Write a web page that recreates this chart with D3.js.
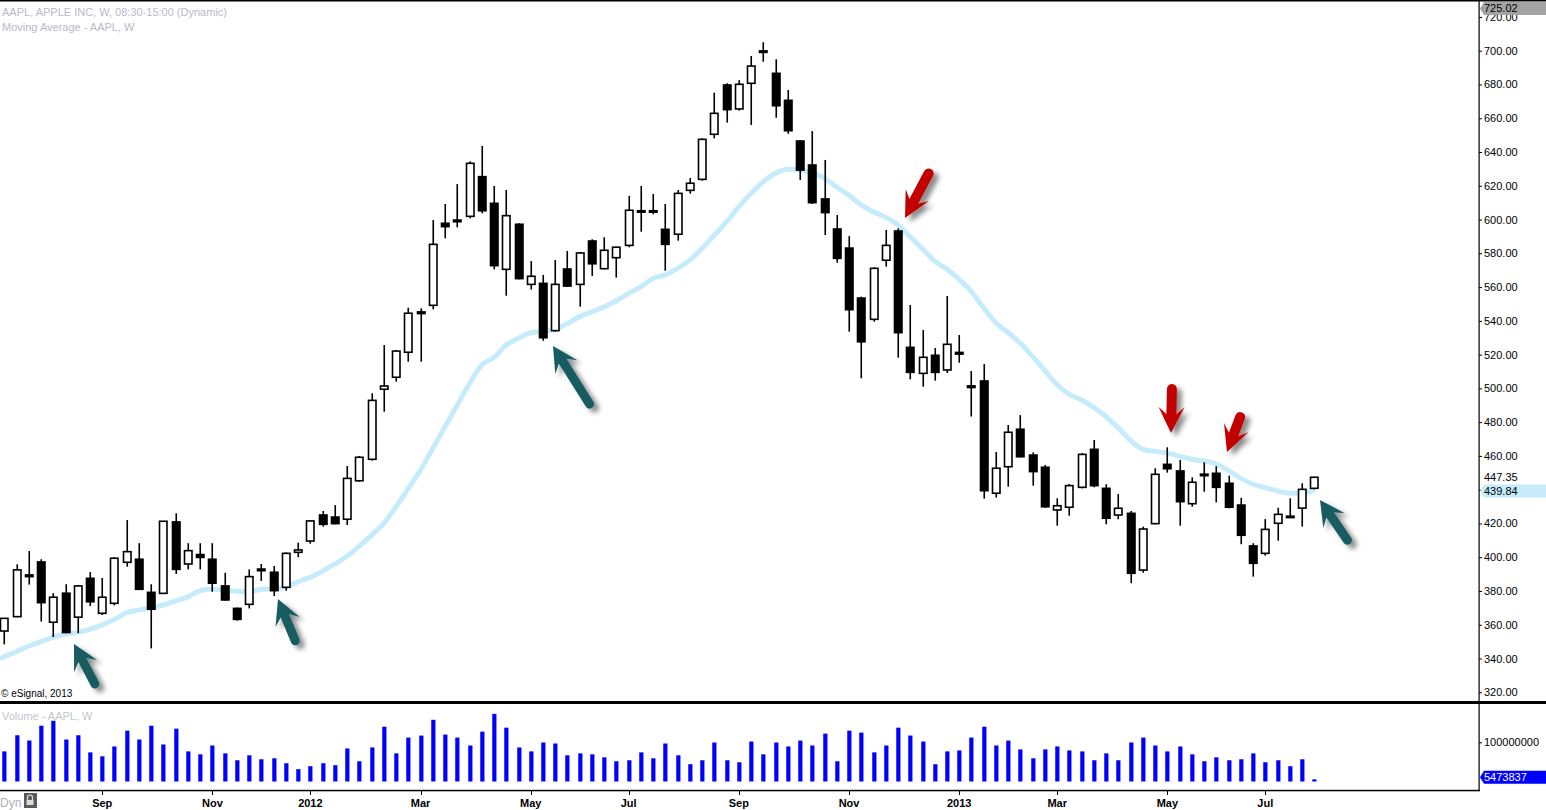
<!DOCTYPE html>
<html><head><meta charset="utf-8">
<script src="https://cdn.jsdelivr.net/npm/d3@7"></script>
<style>
html,body{margin:0;padding:0;background:#fff;overflow:hidden}
svg{display:block;font-family:"Liberation Sans",Arial,sans-serif}
</style></head><body>
<svg id="chart" width="1546" height="810"></svg>
<script>
// ---- data (weekly AAPL, week of 2011-07-11 .. 2013-07-29) ----
const opens  = [356.3,364.8,389.5,397.2,361.5,378.7,364.5,387.5,366.8,372.7,397.0,398.8,379.2,378.6,420.9,396.0,401.6,398.8,383.0,369.7,372.1,393.0,391.1,382.2,402.9,409.6,425.0,423.8,422.5,445.3,458.0,499.5,506.6,521.4,545.3,549.2,597.8,599.7,601.9,625.4,609.6,570.5,597.2,561.6,562.2,534.2,570.7,561.6,587.3,570.9,577.4,584.7,605.2,605.2,594.2,591.3,617.3,623.8,650.5,679.7,665.5,680.7,699.9,686.6,670.6,646.5,632.3,612.2,594.4,583.1,553.5,540.9,575.9,593.2,524.3,508.9,519.6,510.9,521.3,501.5,504.4,437.9,453.6,475.8,460.5,453.3,428.0,429.6,441.4,463.9,440.8,425.0,426.0,392.4,419.9,455.0,451.1,431.7,449.2,449.7,443.8,430.9,406.7,402.3,420.1,424.3,429.1,440.8];
const highs  = [364.0,395.8,403.7,398.8,378.7,384.0,383.6,391.2,387.7,400.0,422.0,408.3,384.0,421.5,426.0,408.3,408.3,408.3,390.8,370.2,392.8,396.0,394.8,402.9,408.6,422.0,427.4,430.9,454.0,460.0,497.1,525.7,522.7,547.8,547.4,599.7,609.2,621.0,634.5,643.6,619.9,617.5,597.8,575.4,567.2,576.0,581.4,580.8,588.3,589.5,584.0,614.0,619.9,615.1,609.2,617.5,624.6,648.1,675.1,680.7,682.6,696.9,705.0,694.9,676.7,647.1,652.4,635.3,602.7,590.2,554.3,571.7,593.8,594.8,549.4,534.6,523.9,554.7,531.6,510.3,514.4,462.3,478.3,484.2,462.1,454.6,434.9,443.4,461.7,469.4,443.2,437.4,427.4,418.1,452.7,465.1,457.6,447.3,456.2,453.9,448.3,435.2,408.3,422.6,429.3,434.9,443.8,447.7];
const lows   = [348.4,364.5,383.8,361.9,352.7,355.0,355.0,371.1,365.8,371.5,394.4,380.6,346.0,378.2,390.1,392.8,392.8,379.6,374.3,362.4,369.7,386.0,377.0,380.2,400.0,408.0,418.1,419.5,419.1,444.7,457.2,486.2,504.0,515.8,515.8,546.8,588.9,595.4,600.7,603.7,570.5,554.9,564.6,558.5,528.2,533.6,560.2,548.4,566.6,570.5,565.6,583.6,592.8,603.1,569.7,587.5,615.3,623.0,648.1,657.4,664.5,656.0,693.5,660.3,650.8,623.4,609.2,590.8,574.4,533.6,506.0,539.5,572.1,518.2,505.4,501.0,504.6,509.1,515.2,483.3,434.7,435.3,441.8,459.2,442.4,429.3,418.7,424.6,440.8,441.4,419.5,422.5,384.6,390.8,419.5,450.1,418.7,429.9,438.8,432.5,429.0,407.7,388.5,400.9,409.8,423.4,418.1,440.2];
const closes = [363.8,392.5,388.5,373.1,376.3,355.4,383.0,373.6,376.3,399.4,403.3,381.0,369.2,421.3,392.8,403.9,399.9,384.6,374.7,363.2,388.5,392.0,380.2,402.3,404.3,421.5,419.5,419.9,446.7,459.2,492.9,501.4,522.1,544.5,544.3,585.3,595.8,598.7,633.3,605.2,572.7,602.3,565.0,566.4,530.0,561.6,560.6,580.2,573.8,581.8,583.6,605.5,604.5,604.5,585.3,615.5,621.5,647.5,662.9,665.1,680.1,690.9,699.0,667.4,652.6,629.3,610.0,604.1,577.0,546.6,527.6,571.1,584.7,533.0,509.5,518.4,509.5,526.1,520.3,500.5,439.4,452.7,474.0,459.5,450.7,429.9,430.5,442.4,460.9,442.4,423.1,429.0,390.5,416.7,449.1,452.4,432.9,444.4,448.3,441.4,429.6,413.0,396.4,416.5,425.4,423.6,440.2,447.35];
const maLeadIn = 339.6; // moving average value at the left edge, before the first candle
const maValues = [341.1,344.0,347.4,350.0,352.6,354.5,355.5,357.3,359.9,363.2,367.1,368.7,370.3,371.7,374.1,376.6,380.2,381.0,380.6,379.8,379.6,381.0,381.4,382.2,385.5,388.1,391.8,396.0,400.7,406.6,413.1,420.1,429.9,440.8,451.7,464.5,477.3,490.2,503.0,513.8,518.4,525.7,529.7,533.0,533.6,535.0,538.5,542.5,545.4,548.4,551.9,556.3,560.2,565.2,567.2,571.1,576.0,583.0,590.8,598.7,607.6,615.5,622.4,627.4,629.8,629.3,627.4,624.4,619.1,614.3,608.6,604.6,601.3,596.8,589.7,582.6,575.3,570.7,564.6,557.3,547.6,538.7,533.0,526.7,518.8,510.5,502.0,496.5,493.1,488.6,483.2,476.5,469.2,463.9,462.7,461.7,459.8,458.0,457.0,455.2,451.3,446.7,443.2,441.2,439.2,437.9,437.9,439.84];
const volumesM = [76.8,118.0,104.5,142.3,154.9,107.1,118.0,74.3,64.2,89.4,129.7,107.1,142.3,94.5,134.8,76.8,69.3,91.9,71.8,54.2,66.8,56.7,59.2,46.6,31.5,39.0,46.6,41.6,84.4,51.6,86.9,139.8,71.8,112.1,117.2,157.4,119.7,112.1,91.9,127.2,172.5,137.3,86.9,76.8,99.5,96.9,66.8,71.8,69.3,61.7,51.6,54.2,74.3,59.2,96.9,66.8,44.1,54.2,99.5,54.2,49.1,102.0,69.3,99.5,89.4,104.5,91.9,122.2,51.6,129.7,124.7,74.3,91.9,137.3,117.2,102.0,44.1,76.8,79.3,112.1,139.8,91.9,104.5,81.9,59.2,81.9,89.4,79.3,76.8,54.2,71.8,54.2,99.5,112.1,91.9,76.8,89.4,69.3,51.6,61.7,54.2,56.7,71.8,49.1,54.2,39.0,56.7,5.473837];
const priceTicks = [320,340,360,380,400,420,440,460,480,500,520,540,560,580,600,620,640,660,680,700,720];
const volumeTicks = [100];
const monthTicks = [[8,"Sep"],[17,"Nov"],[25,"2012"],[34,"Mar"],[43,"May"],[51,"Jul"],[60,"Sep"],[69,"Nov"],[78,"2013"],[86,"Mar"],[95,"May"],[103,"Jul"]];
const lastHigh = 725.02, lastPrice = 447.35, lastMA = 439.84, lastVol = 5473837;
const tealArrows = [[[74,644],[97,688]],[[278,599],[297,645]],[[553,346],[592,408]],[[1320,500],[1350,544]]];
const redArrows  = [[[905,218],[931,169]],[[1171,433],[1172,384]],[[1227,452],[1242,412]]];

// ---- layout ----
const svg = d3.select("#chart");
const n = closes.length;
const x = d3.scaleLinear().domain([0, n-1]).range([4.3, 1314.3]);
const y = d3.scaleLinear().domain([320, 700]).range([692.3, 50.7]);
const yv = d3.scaleLinear().domain([0, 100]).range([781.5, 742.3]);
const axisX = 1479;

svg.append("rect").attr("width",1546).attr("height",810).attr("fill","#fff");

const defs = svg.append("defs");
defs.append("clipPath").attr("id","pclip").append("rect").attr("x",0).attr("y",1).attr("width",axisX).attr("height",700);
const f = defs.append("filter").attr("id","shadow").attr("x","-50%").attr("y","-50%").attr("width","200%").attr("height","200%");
f.append("feDropShadow").attr("dx",5).attr("dy",4).attr("stdDeviation",2.5).attr("flood-color","#000").attr("flood-opacity",0.45);

// header texts
svg.append("text").attr("x",2).attr("y",16).attr("font-size",11).attr("fill","#b9b9c9").text("AAPL, APPLE INC, W, 08:30-15:00 (Dynamic)");
svg.append("text").attr("x",2).attr("y",31).attr("font-size",11).attr("fill","#b9b9c9").text("Moving Average - AAPL, W");

const plot = svg.append("g").attr("clip-path","url(#pclip)");

// moving average
const maPts = [[-0.35, maLeadIn]].concat(maValues.map((v,i)=>[i,v]));
plot.append("path").datum(maPts)
  .attr("fill","none").attr("stroke","#c6ecfb").attr("stroke-width",5).attr("stroke-linejoin","round")
  .attr("d", d3.line().x(d=>x(d[0])).y(d=>y(d[1])).curve(d3.curveMonotoneX));

// candles
const idx = d3.range(n);
const cg = plot.append("g");
cg.selectAll("line.wick").data(idx).join("line")
  .attr("x1",i=>Math.round(x(i))+0.25).attr("x2",i=>Math.round(x(i))+0.25)
  .attr("y1",i=>y(highs[i])).attr("y2",i=>y(lows[i]))
  .attr("stroke","#000").attr("stroke-width",1.6);
cg.selectAll("rect.body").data(idx).join("rect")
  .attr("x",i=>Math.round(x(i))-3.5).attr("width",7.5)
  .attr("y",i=>y(Math.max(opens[i],closes[i])))
  .attr("height",i=>Math.max(1.4, Math.abs(y(opens[i])-y(closes[i]))))
  .attr("fill",i=>closes[i]>=opens[i]?"#fff":"#000")
  .attr("stroke","#000").attr("stroke-width",1.6);

// arrows
function arrowPath(tip, tail, hl, hw, sw){
  const dx = tail[0]-tip[0], dy = tail[1]-tip[1];
  const L = Math.hypot(dx,dy), ux = dx/L, uy = dy/L, nx = -uy, ny = ux;
  const P = (a,b)=>[tip[0]+ux*a+nx*b, tip[1]+uy*a+ny*b];
  const r = sw/2;
  const pts = [P(0,0), P(hl,hw), P(hl*0.72,r), P(L-r,r)];
  const end = P(L-r,-r);
  const back = [P(hl*0.72,-r), P(hl,-hw)];
  let d = "M"+pts.map(p=>p[0].toFixed(1)+","+p[1].toFixed(1)).join("L");
  d += "A"+r+","+r+" 0 0 0 "+end[0].toFixed(1)+","+end[1].toFixed(1);
  d += "L"+back.map(p=>p[0].toFixed(1)+","+p[1].toFixed(1)).join("L")+"Z";
  return d;
}
const ag = svg.append("g").attr("filter","url(#shadow)");
ag.selectAll("path.teal").data(tealArrows).join("path")
  .attr("d",d=>arrowPath(d[0],d[1],25,13,9)).attr("fill","#165c60");
ag.selectAll("path.red").data(redArrows).join("path")
  .attr("d",d=>arrowPath(d[0],d[1],26,13,10)).attr("fill","#c30000");

// copyright
svg.append("text").attr("x",1).attr("y",697).attr("font-size",10).attr("fill","#000").text("\u00a9 eSignal, 2013");

// volume panel
svg.append("text").attr("x",2).attr("y",720).attr("font-size",11).attr("fill","#c4c4cc").text("Volume - AAPL, W");
svg.append("g").selectAll("rect").data(idx).join("rect")
  .attr("x",i=>Math.round(x(i))-1.75).attr("width",4.2)
  .attr("y",i=>yv(volumesM[i])).attr("height",i=>yv(0)-yv(volumesM[i]))
  .attr("fill","#0000ff");

// frame lines
svg.append("rect").attr("x",0).attr("y",0).attr("width",1546).attr("height",1.5).attr("fill","#000");
svg.append("rect").attr("x",0).attr("y",701).attr("width",1546).attr("height",3).attr("fill","#000");
svg.append("rect").attr("x",0).attr("y",789.8).attr("width",axisX+1).attr("height",1.5).attr("fill","#000");
svg.append("rect").attr("x",axisX-0.5).attr("y",0).attr("width",1.2).attr("height",791).attr("fill","#000");

// price axis
const pa = svg.append("g").attr("transform",`translate(${axisX},0)`)
  .call(d3.axisRight(y).tickValues(priceTicks).tickFormat(d=>d.toFixed(2)).tickSize(3).tickPadding(2));
pa.select(".domain").remove();
pa.selectAll("text").attr("font-size",11).attr("fill","#000").attr("font-family","Liberation Sans, Arial, sans-serif");
pa.selectAll("line").attr("stroke","#000");

// volume axis
const va = svg.append("g").attr("transform",`translate(${axisX},0)`)
  .call(d3.axisRight(yv).tickValues(volumeTicks).tickFormat(d=>d3.format("d")(d*1e6)).tickSize(3).tickPadding(2));
va.select(".domain").remove();
va.selectAll("text").attr("font-size",11).attr("fill","#000").attr("font-family","Liberation Sans, Arial, sans-serif");

// tags
function tag(yc, fill, txt, col){
  const h = 13;
  svg.append("path").attr("d",`M${axisX+1},${yc}L${axisX+5},${yc-h/2}L1546,${yc-h/2}L1546,${yc+h/2}L${axisX+5},${yc+h/2}Z`).attr("fill",fill);
  svg.append("text").attr("x",axisX+5).attr("y",yc+4).attr("font-size",11).attr("fill",col).text(txt);
}
tag(y(lastHigh), "#a3a3a3", lastHigh.toFixed(2), "#000");
svg.append("text").attr("x",axisX+5).attr("y",y(lastPrice)+4).attr("font-size",11).attr("fill","#000").text(lastPrice.toFixed(2));
tag(y(lastMA)+1, "#c6ecfb", lastMA.toFixed(2), "#000");
tag(yv(lastVol/1e6)-2, "#0000ff", String(lastVol), "#fff");

// date axis
const da = svg.append("g");
da.selectAll("line").data(monthTicks).join("line")
  .attr("x1",d=>Math.round(x(d[0]))+0.5).attr("x2",d=>Math.round(x(d[0]))+0.5)
  .attr("y1",791).attr("y2",795).attr("stroke","#000");
da.selectAll("text").data(monthTicks).join("text")
  .attr("x",d=>x(d[0])).attr("y",807).attr("text-anchor","middle")
  .attr("font-size",11).attr("font-weight","bold").attr("fill","#000").text(d=>d[1]);

// bottom-left status
svg.append("text").attr("x",0).attr("y",807).attr("font-size",12).attr("fill","#b0b0b8").text("Dyn");
svg.append("rect").attr("x",24).attr("y",793).attr("width",13).attr("height",15).attr("fill","#5a5a5a");
svg.append("path").attr("d","M27.5,800 v-2.5 a2.5,2.5 0 0 1 5,0 v2.5").attr("fill","none").attr("stroke","#ddd").attr("stroke-width",1.2);
svg.append("rect").attr("x",26.5).attr("y",800).attr("width",7).attr("height",5).attr("fill","#ddd");
</script>
</body></html>
